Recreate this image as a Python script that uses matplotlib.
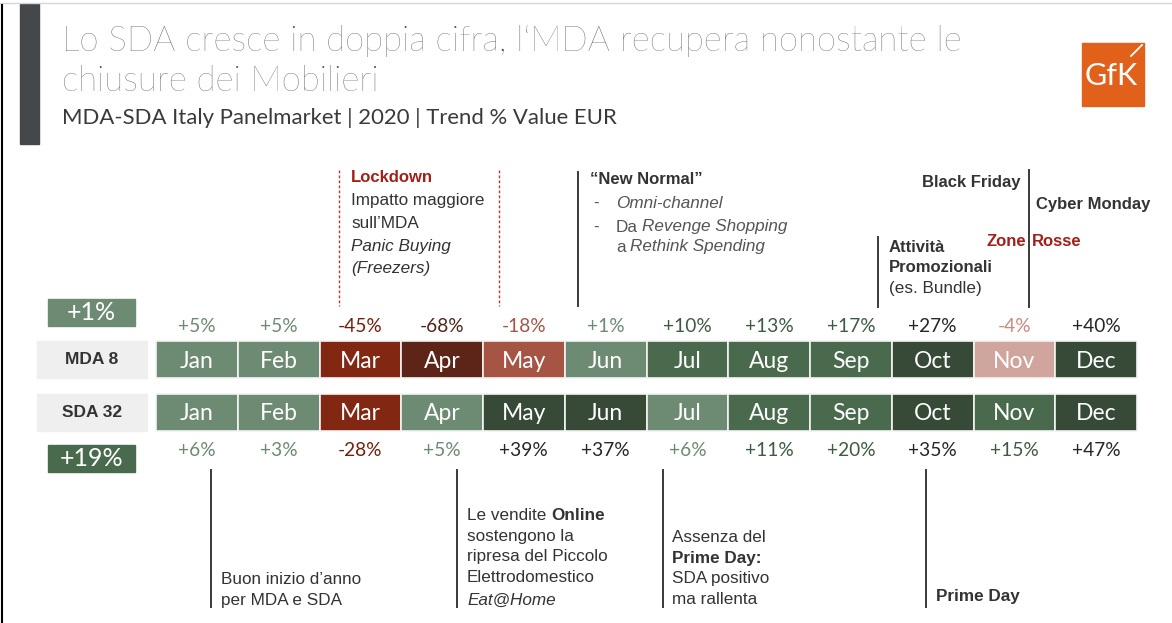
import matplotlib
matplotlib.use('Agg')
import matplotlib.pyplot as plt
from matplotlib.colors import ListedColormap, BoundaryNorm

# Data
months = ['Jan', 'Feb', 'Mar', 'Apr', 'May', 'Jun', 'Jul', 'Aug', 'Sep', 'Oct', 'Nov', 'Dec']
mda_trend = [5, 5, -45, -68, -18, 1, 10, 13, 17, 27, -4, 40]
sda_trend = [6, 3, -28, 5, 39, 37, 6, 11, 20, 35, 15, 47]
mda_total = 1
sda_total = 19
row_labels = ['MDA 8', 'SDA 32']

# colour scales (value -> colour)
bounds = [-100, -50, -25, -10, 0, 10, 25, 100]
cell_cmap = ListedColormap(['#5C2518', '#822712', '#A65444', '#CFA59D',
                            '#6D8A72', '#4A6A4D', '#364A37'])
text_cmap = ListedColormap(['#4F261C', '#74200F', '#A5544A', '#C98A80',
                            '#6D8A72', '#3F5A43', '#262626'])
norm = BoundaryNorm(bounds, cell_cmap.N)

SANS = 'Liberation Sans'
LATO = 'Lato'
DARK = '#333333'
RED = '#A31F1A'

fig = plt.figure(figsize=(11.72, 6.23), dpi=100)
ax = fig.add_axes([0, 0, 1, 1])
ax.set_xlim(0, 1172)
ax.set_ylim(623, 0)
ax.axis('off')
renderer = fig.canvas.get_renderer()

# frame bits of the slide
ax.plot([0, 1172], [3, 3], color='#D5D5D5', lw=1)
ax.plot([1.5, 1.5], [5, 623], color='black', lw=1.5)
ax.add_patch(plt.Rectangle((20, 4), 19, 140, color='#45484A'))

# titles
ax.text(62, 51, 'Lo SDA cresce in doppia cifra, l‘MDA recupera nonostante le',
        family=LATO, fontweight='light', fontsize=25, color='#4A4A4A', va='baseline')
ax.text(62, 91, 'chiusure dei Mobilieri',
        family=LATO, fontweight='light', fontsize=25, color='#4A4A4A', va='baseline')
ax.text(62, 124, 'MDA-SDA Italy Panelmarket | 2020 | Trend % Value EUR',
        family=LATO, fontsize=15.9, color='#3A3A3A', va='baseline')

# GfK logo
ax.add_patch(plt.Rectangle((1082, 43), 62, 63, color='#E2611A'))
ax.text(1111, 76, 'GfK', family=LATO, fontsize=22, color='white',
        ha='center', va='center')
ax.plot([1131, 1142], [56, 45], color='white', lw=1.3)

# month grid
X0, CW = 156, 81.75
MDA_Y, SDA_Y, ROW_H = 341, 394, 37
xs = [X0 + CW * (i + 0.5) for i in range(len(months))]

for top, vals, lab_y in [(MDA_Y, mda_trend, 327), (SDA_Y, sda_trend, 450)]:
    ax.bar(xs, ROW_H, width=CW, bottom=top, color=cell_cmap(norm(vals)),
           edgecolor='#F4F4F4', linewidth=1.2)
    for x, m, v in zip(xs, months, vals):
        ax.text(x, top + ROW_H / 2 + 1.5, m, family=LATO, fontsize=16.5, color='white',
                ha='center', va='center')
        ax.text(x, lab_y, f'{v:+d}%', family=LATO, fontsize=13.8,
                color=text_cmap(norm(v)), ha='center', va='center')

# row labels
for top, lab in zip([MDA_Y, SDA_Y], row_labels):
    ax.add_patch(plt.Rectangle((37, top), 110, ROW_H, color='#EFEFEF'))
    ax.text(92, top + ROW_H / 2, lab, family=SANS, fontweight='bold', fontsize=12.5,
            color=DARK, ha='center', va='center')

# yearly totals
for top, v in [(299, mda_total), (445, sda_total)]:
    ax.add_patch(plt.Rectangle((48, top), 87, 27, color=cell_cmap(norm(v))))
    ax.text(91.5, top + 14, f'{v:+d}%', family=LATO, fontsize=18, color='white',
            ha='center', va='center')


def rich(x, y, parts, size=12.3, color=DARK):
    """draw text pieces one after another on the same line"""
    for s, weight, style, col in parts:
        t = ax.text(x, y, s, family=SANS, fontsize=size, fontweight=weight,
                    fontstyle=style, color=col or color, va='center')
        x += t.get_window_extent(renderer=renderer).width + 4.5


def line(x, y0, y1, dashed=False):
    if dashed:
        ax.plot([x, x], [y0, y1], color='#B03A32', lw=1, ls=(0, (2, 1.6)))
    else:
        ax.plot([x, x], [y0, y1], color='#3A3A3A', lw=1.4)


# annotations above
line(339, 170, 306, dashed=True)
line(499, 170, 306, dashed=True)
ax.text(351, 178, 'Lockdown', family=SANS, fontweight='bold', fontsize=12, color=RED, va='center')
ax.text(351, 201, 'Impatto maggiore', family=SANS, fontsize=12.3, color=DARK, va='center')
ax.text(351, 223, 'sull’MDA', family=SANS, fontsize=12.3, color=DARK, va='center')
ax.text(351, 246, 'Panic Buying', family=SANS, fontsize=12.3, style='italic', color=DARK, va='center')
ax.text(351, 268, '(Freezers)', family=SANS, fontsize=12.3, style='italic', color=DARK, va='center')

line(578, 172, 306)
ax.text(590, 179, '“New Normal”', family=SANS, fontweight='bold', fontsize=12, color=DARK, va='center')
for yy in [203, 227]:
    ax.text(593, yy, '-', family=SANS, fontsize=12.3, color='#555555', va='center')
rich(616, 203, [('Omni-channel', 'normal', 'italic', '#555555')])
rich(616, 227, [('Da', 'normal', 'normal', '#555555'),
                ('Revenge Shopping', 'normal', 'italic', '#555555')])
rich(616, 247, [('a', 'normal', 'normal', '#555555'),
                ('Rethink Spending', 'normal', 'italic', '#555555')])

line(1029, 170, 307)
line(878, 237, 307)
ax.text(1021, 182, 'Black Friday', family=SANS, fontweight='bold', fontsize=12, color=DARK,
        ha='right', va='center')
ax.text(1036, 205, 'Cyber Monday', family=SANS, fontweight='bold', fontsize=12, color=DARK, va='center')
ax.text(1026, 241, 'Zone', family=SANS, fontweight='bold', fontsize=12, color=RED, ha='right', va='center')
ax.text(1032, 241, 'Rosse', family=SANS, fontweight='bold', fontsize=12, color=RED, va='center')
ax.text(889, 247, 'Attività', family=SANS, fontweight='bold', fontsize=12, color=DARK, va='center')
ax.text(889, 268, 'Promozionali', family=SANS, fontweight='bold', fontsize=12, color=DARK, va='center')
ax.text(889, 288, '(es. Bundle)', family=SANS, fontsize=12.3, color=DARK, va='center')

# annotations below
for x in [211, 457, 663, 926]:
    line(x, 470, 607)
ax.text(221, 580, 'Buon inizio d’anno', family=SANS, fontsize=12.3, color=DARK, va='center')
ax.text(221, 601, 'per MDA e SDA', family=SANS, fontsize=12.3, color=DARK, va='center')

rich(467, 515, [('Le vendite', 'normal', 'normal', None), ('Online', 'bold', 'normal', None)])
ax.text(467, 536, 'sostengono la', family=SANS, fontsize=12.3, color=DARK, va='center')
ax.text(467, 557, 'ripresa del Piccolo', family=SANS, fontsize=12.3, color=DARK, va='center')
ax.text(467, 577, 'Elettrodomestico', family=SANS, fontsize=12.3, color=DARK, va='center')
ax.text(467, 600, 'Eat@Home', family=SANS, fontsize=12.3, style='italic', color=DARK, va='center')

ax.text(672, 538, 'Assenza del', family=SANS, fontsize=12.3, color=DARK, va='center')
ax.text(672, 558, 'Prime Day:', family=SANS, fontweight='bold', fontsize=12.3, color=DARK, va='center')
ax.text(672, 578, 'SDA positivo', family=SANS, fontsize=12.3, color=DARK, va='center')
ax.text(672, 599, 'ma rallenta', family=SANS, fontsize=12.3, color=DARK, va='center')

ax.text(936, 596, 'Prime Day', family=SANS, fontweight='bold', fontsize=12.3, color=DARK, va='center')

fig.savefig('out.png', dpi=100, facecolor='white')
